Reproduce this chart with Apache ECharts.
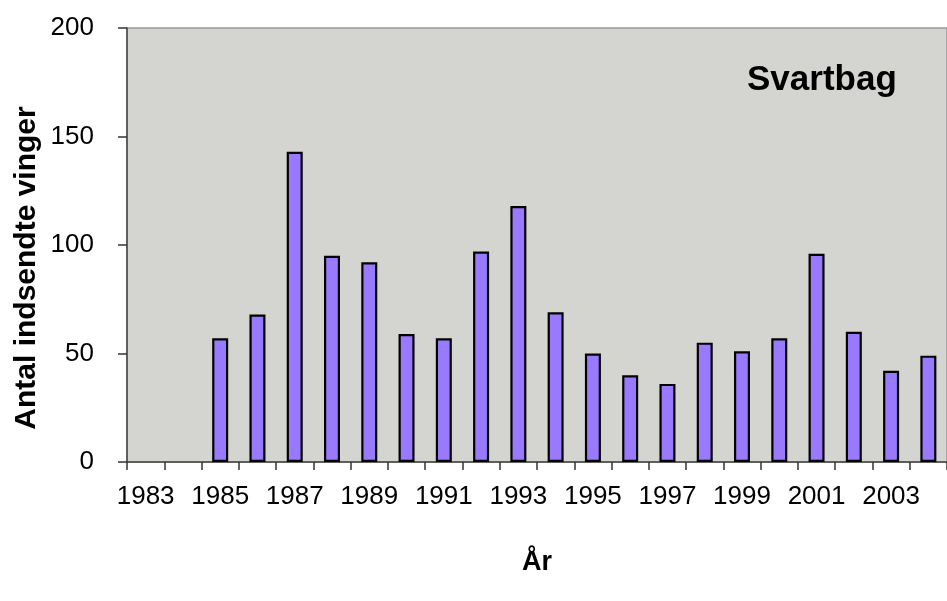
<!DOCTYPE html>
<html><head><meta charset="utf-8">
<script src="https://cdn.jsdelivr.net/npm/echarts@6/dist/echarts.min.js"></script>
<style>html,body{margin:0;padding:0;background:#fff}#c{width:947px;height:601px}</style>
</head><body><div id="c"></div>
<script>
const years = ['1983','1984','1985','1986','1987','1988','1989','1990','1991','1992','1993','1994','1995','1996','1997','1998','1999','2000','2001','2002','2003','2004'];
const wings = [null,null,57,68,143,95,92,59,57,97,118,69,50,40,36,55,51,57,96,60,42,49];
const yTicks = [0,50,100,150,200];
const titleText = 'Svartbag';
const xName = 'År';
const yName = 'Antal indsendte vinger';

const font = 'Liberation Sans, Arial, Helvetica, sans-serif';
const chart = echarts.init(document.getElementById('c'));
chart.setOption({
  animation: false,
  backgroundColor: '#ffffff',
  grid: {left: 127, top: 28, width: 830, height: 434, show: true,
         backgroundColor: '#d4d5d0', borderColor: '#999999', borderWidth: 1.5},
  title: {text: titleText, left: 742, top: 58,
          textStyle: {fontFamily: font, fontSize: 35, fontWeight: 'bold', color: '#000'}},
  graphic: [{
    type: 'text', x: 27, y: 268, rotation: Math.PI / 2,
    style: {text: yName, fontFamily: font, fontSize: 30, fontWeight: 'bold',
            fill: '#000', align: 'center', verticalAlign: 'middle'}
  }],
  xAxis: {
    type: 'category', data: years,
    name: xName, nameLocation: 'middle', nameGap: 87,
    nameTextStyle: {fontFamily: font, fontSize: 27, fontWeight: 'bold', color: '#000'},
    axisLine: {lineStyle: {color: '#444', width: 1.5}},
    axisTick: {show: true, interval: 0, length: 8, lineStyle: {color: '#333', width: 1.5}},
    axisLabel: {interval: 1, margin: 22, fontFamily: font, fontSize: 26, color: '#000'}
  },
  yAxis: {
    type: 'value', min: yTicks[0], max: yTicks[yTicks.length-1], interval: 50,
    axisLine: {show: true, lineStyle: {color: '#444', width: 1.5}},
    axisTick: {show: true, length: 9, lineStyle: {color: '#333', width: 1.5}},
    axisLabel: {margin: 33, fontFamily: font, fontSize: 26, color: '#000'},
    splitLine: {show: false}
  },
  series: [{
    type: 'bar', data: wings, barWidth: 16,
    itemStyle: {color: '#997aff', borderColor: '#000', borderWidth: 2.2}
  }]
});
</script></body></html>
